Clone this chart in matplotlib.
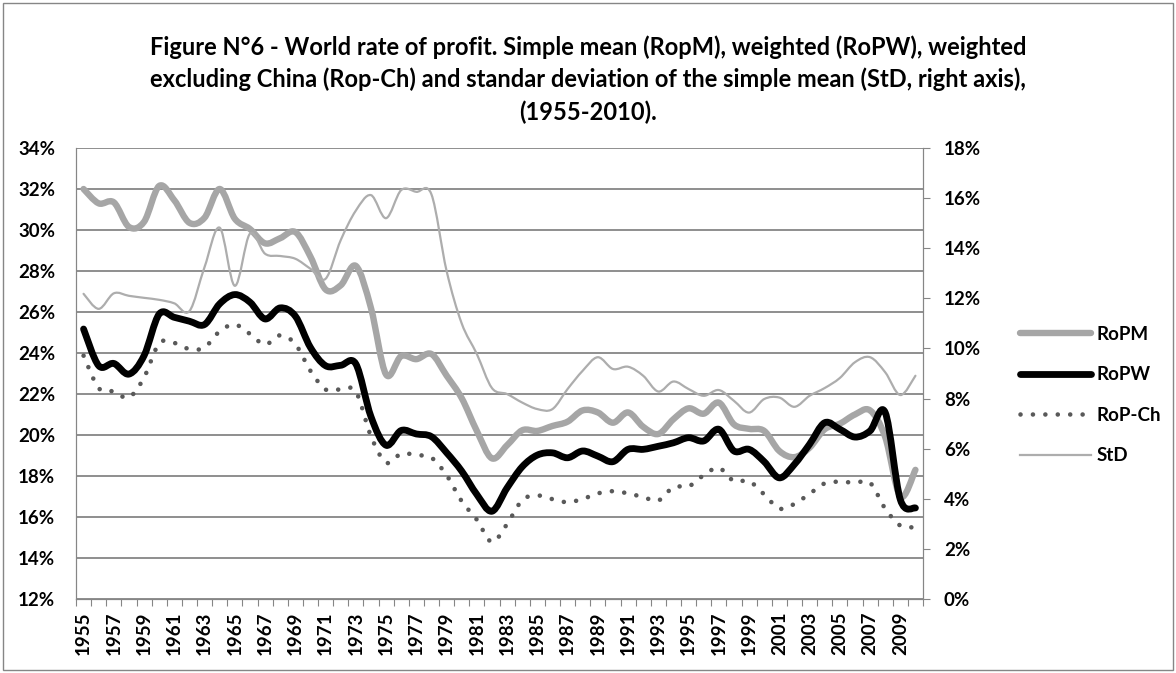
import numpy as np
import matplotlib
matplotlib.use("Agg")
import matplotlib.pyplot as plt
from matplotlib.path import Path
from matplotlib.patches import PathPatch, Rectangle
from matplotlib.lines import Line2D
from matplotlib.ticker import FuncFormatter

plt.rcParams['font.family'] = ['Lato', 'DejaVu Sans']
plt.rcParams['font.weight'] = 'bold'

years = list(range(1955, 2011))

# simple mean (left axis, %)
ropm = [32.0, 31.3, 31.35, 30.15, 30.4, 32.15, 31.45, 30.35, 30.6, 32.0,
        30.55, 30.05, 29.35, 29.6, 29.9, 28.7, 27.1, 27.3, 28.25, 26.2,
        22.95, 23.85, 23.7, 23.95, 22.9, 21.8, 20.2, 18.86, 19.5, 20.23,
        20.2, 20.44, 20.65, 21.2, 21.1, 20.6, 21.1, 20.4, 20.05, 20.77,
        21.3, 21.04, 21.58, 20.52, 20.3, 20.2, 19.22, 18.92, 19.38, 20.28,
        20.55, 21.0, 21.2, 19.9, 17.0, 18.3]

# weighted (left axis, %)
ropw = [25.17, 23.38, 23.49, 22.97, 23.87, 25.9, 25.74, 25.55, 25.39, 26.4,
        26.85, 26.48, 25.66, 26.2, 25.8, 24.27, 23.38, 23.4, 23.47, 20.9,
        19.5, 20.22, 20.05, 19.92, 19.14, 18.24, 17.1, 16.28, 17.42, 18.45,
        19.02, 19.13, 18.89, 19.22, 18.97, 18.7, 19.3, 19.3, 19.45, 19.62,
        19.87, 19.71, 20.28, 19.22, 19.3, 18.7, 17.91, 18.57, 19.55, 20.6,
        20.28, 19.9, 20.2, 21.1, 16.85, 16.44]

# weighted excluding China (left axis, %)
rop_ch = [23.87, 22.29, 22.12, 21.83, 22.81, 24.47, 24.49, 24.19, 24.27, 25.06,
          25.39, 24.93, 24.41, 24.86, 24.44, 23.13, 22.22, 22.22, 22.12, 19.95,
          18.65, 19.09, 19.02, 18.89, 18.04, 16.77, 15.87, 14.78, 15.66, 16.82,
          17.05, 16.87, 16.72, 16.88, 17.15, 17.26, 17.15, 16.97, 16.8, 17.46,
          17.49, 18.04, 18.4, 17.75, 17.75, 17.1, 16.41, 16.64, 17.13, 17.64,
          17.72, 17.67, 17.67, 16.41, 15.58, 15.5]

# standard deviation (right axis, %)
std = [12.18, 11.58, 12.2, 12.1, 12.02, 11.94, 11.8, 11.49, 13.25, 14.82,
       12.5, 14.58, 13.78, 13.69, 13.58, 13.18, 12.78, 14.32, 15.5, 16.12,
       15.2, 16.32, 16.25, 16.15, 13.1, 11.0, 9.78, 8.42, 8.18, 7.84,
       7.58, 7.58, 8.38, 9.11, 9.65, 9.18, 9.27, 8.91, 8.28, 8.68,
       8.38, 8.11, 8.34, 7.91, 7.44, 7.98, 8.04, 7.67, 8.11, 8.42,
       8.82, 9.45, 9.65, 9.05, 8.14, 8.91]

title_lines = ["Figure N°6 - World rate of profit. Simple mean (RopM), weighted (RoPW), weighted",
               "excluding China (Rop-Ch) and standar deviation of the simple mean (StD, right axis),",
               "(1955-2010)."]

GRID = '#868686'
FS = 13.5
DOTS = (0, (0.01, 2.7))


def smooth_path(ys):
    # bezier path through the points, like excel "smoothed line"
    xs = list(range(len(ys)))
    n = len(ys)
    verts = [(xs[0], ys[0])]
    codes = [Path.MOVETO]
    for i in range(n - 1):
        a = max(i - 1, 0)
        d = min(i + 2, n - 1)
        c1 = (xs[i] + (xs[i + 1] - xs[a]) / 6, ys[i] + (ys[i + 1] - ys[a]) / 6)
        c2 = (xs[i + 1] - (xs[d] - xs[i]) / 6, ys[i + 1] - (ys[d] - ys[i]) / 6)
        verts += [c1, c2, (xs[i + 1], ys[i + 1])]
        codes += [Path.CURVE4] * 3
    return Path(verts, codes)


fig = plt.figure(figsize=(11.76, 6.73), dpi=100)
ax = fig.add_axes([76 / 1176, 1 - 599 / 673, (923 - 76) / 1176, (599 - 148) / 673])
ax2 = ax.twinx()

ax.set_xlim(-0.5, len(years) - 0.5)
ax.set_ylim(12, 34)
ax2.set_ylim(0, 18)

ax.set_yticks(np.arange(12, 35, 2))
ax.yaxis.set_major_formatter(FuncFormatter(lambda v, _: f"{v:.0f}%"))
ax.grid(axis='y', color=GRID, lw=1.3)
ax.set_axisbelow(True)
ax.tick_params(axis='y', length=0, labelsize=FS, pad=15)

ax2.set_yticks(np.arange(0, 19, 2))
ax2.yaxis.set_major_formatter(FuncFormatter(lambda v, _: f"{v:.0f}%"))
ax2.tick_params(axis='y', length=5, color=GRID, labelsize=FS, pad=10)

# x axis: ticks between categories, labels every other year
ax.set_xticks(np.arange(-0.5, len(years), 1))
ax.set_xticklabels([])
ax.tick_params(axis='x', which='major', length=5, color=GRID)
ax.set_xticks(range(0, len(years), 2), minor=True)
ax.set_xticklabels([str(y) for y in years[::2]], minor=True, rotation=90)
ax.tick_params(axis='x', which='minor', length=0, labelsize=FS, pad=9)

for a in (ax, ax2):
    for s in a.spines.values():
        s.set_color(GRID)
    a.spines['top'].set_visible(False)

ax.add_patch(PathPatch(smooth_path(ropm), fill=False, edgecolor='#A6A6A6', lw=4.6,
                       capstyle='round', joinstyle='round'))
ax.add_patch(PathPatch(smooth_path(ropw), fill=False, edgecolor='black', lw=4.9,
                       capstyle='round', joinstyle='round'))
ax.add_patch(PathPatch(smooth_path(rop_ch), fill=False, edgecolor='#595959', lw=3.3,
                       linestyle=DOTS, capstyle='round'))
ax2.add_patch(PathPatch(smooth_path(std), fill=False, edgecolor='#ADADAD', lw=1.6,
                        capstyle='round', joinstyle='round'))

handles = [Line2D([], [], color='#A6A6A6', lw=4.6, solid_capstyle='round'),
           Line2D([], [], color='black', lw=4.9, solid_capstyle='round'),
           Line2D([], [], color='#595959', lw=3.3, ls=DOTS, dash_capstyle='round'),
           Line2D([], [], color='#ADADAD', lw=1.6)]
labels = ['RoPM', 'RoPW', 'RoP-Ch', 'StD']
fig.legend(handles, labels, loc='center left', bbox_to_anchor=(1003 / 1176, 1 - 395 / 673),
           frameon=False, fontsize=FS, handlelength=3.8, handletextpad=0.3,
           labelspacing=1.25)

for k, line in enumerate(title_lines):
    fig.text(0.5, 1 - (47 + 32.5 * k) / 673, line, ha='center', va='center',
             fontsize=17, fontweight='bold')

fig.add_artist(Rectangle((3 / 1176, 3 / 673), 1 - 6 / 1176, 1 - 6 / 673,
                         transform=fig.transFigure, fill=False, edgecolor=GRID, lw=1))

fig.savefig('out.png', dpi=100)
